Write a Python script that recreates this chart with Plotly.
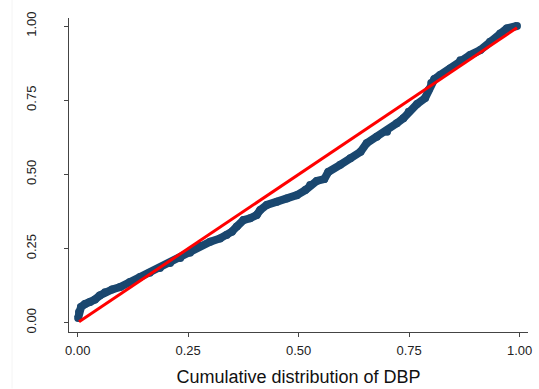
import plotly.graph_objects as go

# Empirical P-P curve (cumulative distribution of DBP vs normal)
emp_x = [0.001, 0.003, 0.0075, 0.0165, 0.028, 0.039, 0.050, 0.062, 0.078, 0.096,
         0.118, 0.141, 0.163, 0.186, 0.209, 0.232, 0.254, 0.277, 0.300, 0.322,
         0.337, 0.349, 0.360, 0.375, 0.390, 0.405, 0.413, 0.428, 0.451, 0.473,
         0.496, 0.515, 0.526, 0.541, 0.558, 0.567, 0.594, 0.617, 0.640, 0.654,
         0.677, 0.700, 0.722, 0.737, 0.749, 0.768, 0.786, 0.794, 0.800, 0.807,
         0.820, 0.843, 0.866, 0.888, 0.911, 0.933, 0.956, 0.971, 0.994]
emp_y = [0.016, 0.036, 0.053, 0.063, 0.070, 0.078, 0.092, 0.103, 0.112, 0.120,
         0.137, 0.154, 0.168, 0.184, 0.201, 0.218, 0.236, 0.259, 0.273, 0.284,
         0.296, 0.307, 0.324, 0.346, 0.352, 0.363, 0.380, 0.397, 0.408, 0.419,
         0.430, 0.447, 0.464, 0.478, 0.484, 0.508, 0.532, 0.554, 0.576, 0.605,
         0.627, 0.644, 0.672, 0.689, 0.711, 0.737, 0.757, 0.784, 0.808, 0.821,
         0.835, 0.857, 0.885, 0.902, 0.919, 0.947, 0.975, 0.992, 1.000]

ref_x = [0.003, 0.994]
ref_y = [0.003, 0.994]

tick_vals = [0, 0.25, 0.5, 0.75, 1.0]
tick_text = ["0.00", "0.25", "0.50", "0.75", "1.00"]

x_title = "Cumulative distribution of DBP"

navy = "#1a476f"
fig = go.Figure()
fig.add_trace(go.Scatter(
    x=emp_x, y=emp_y, mode="lines+markers",
    line=dict(color=navy, width=8),
    marker=dict(color=navy, size=8),
    showlegend=False, hoverinfo="skip"))
fig.add_trace(go.Scatter(
    x=ref_x, y=ref_y, mode="lines",
    line=dict(color="#ff0000", width=3),
    showlegend=False, hoverinfo="skip"))

fig.update_layout(
    width=539, height=389,
    margin=dict(l=69, r=11, t=18, b=57),
    paper_bgcolor="white", plot_bgcolor="white",
    font=dict(family="Liberation Sans, Arial, sans-serif", color="#222222", size=13),
    showlegend=False,
)
fig.update_xaxes(
    range=[-0.0197, 1.019], tickvals=tick_vals, ticktext=tick_text,
    showgrid=False, zeroline=False, showline=True, linecolor="#444444", linewidth=1,
    ticks="outside", ticklen=4, tickcolor="#444444", ticklabelstandoff=2,
    automargin=False,
    title=dict(text=x_title, font=dict(size=18, color="#111111"), standoff=13),
)
fig.update_yaxes(
    range=[-0.0313, 1.027], tickvals=tick_vals, ticktext=tick_text,
    showgrid=False, zeroline=False, showline=True, linecolor="#444444", linewidth=1,
    ticks="outside", ticklen=4, tickcolor="#444444", tickangle=-90,
    ticklabelstandoff=23, automargin=False,
)
fig.add_shape(type="line", xref="paper", yref="paper",
              x0=-0.124, x1=-0.124, y0=-0.18, y1=1.06,
              line=dict(color="#f4f4f4", width=1))

fig.write_html("out.html", config={"displayModeBar": False},
               post_script="document.body.style.margin='0';document.body.style.padding='0';")
